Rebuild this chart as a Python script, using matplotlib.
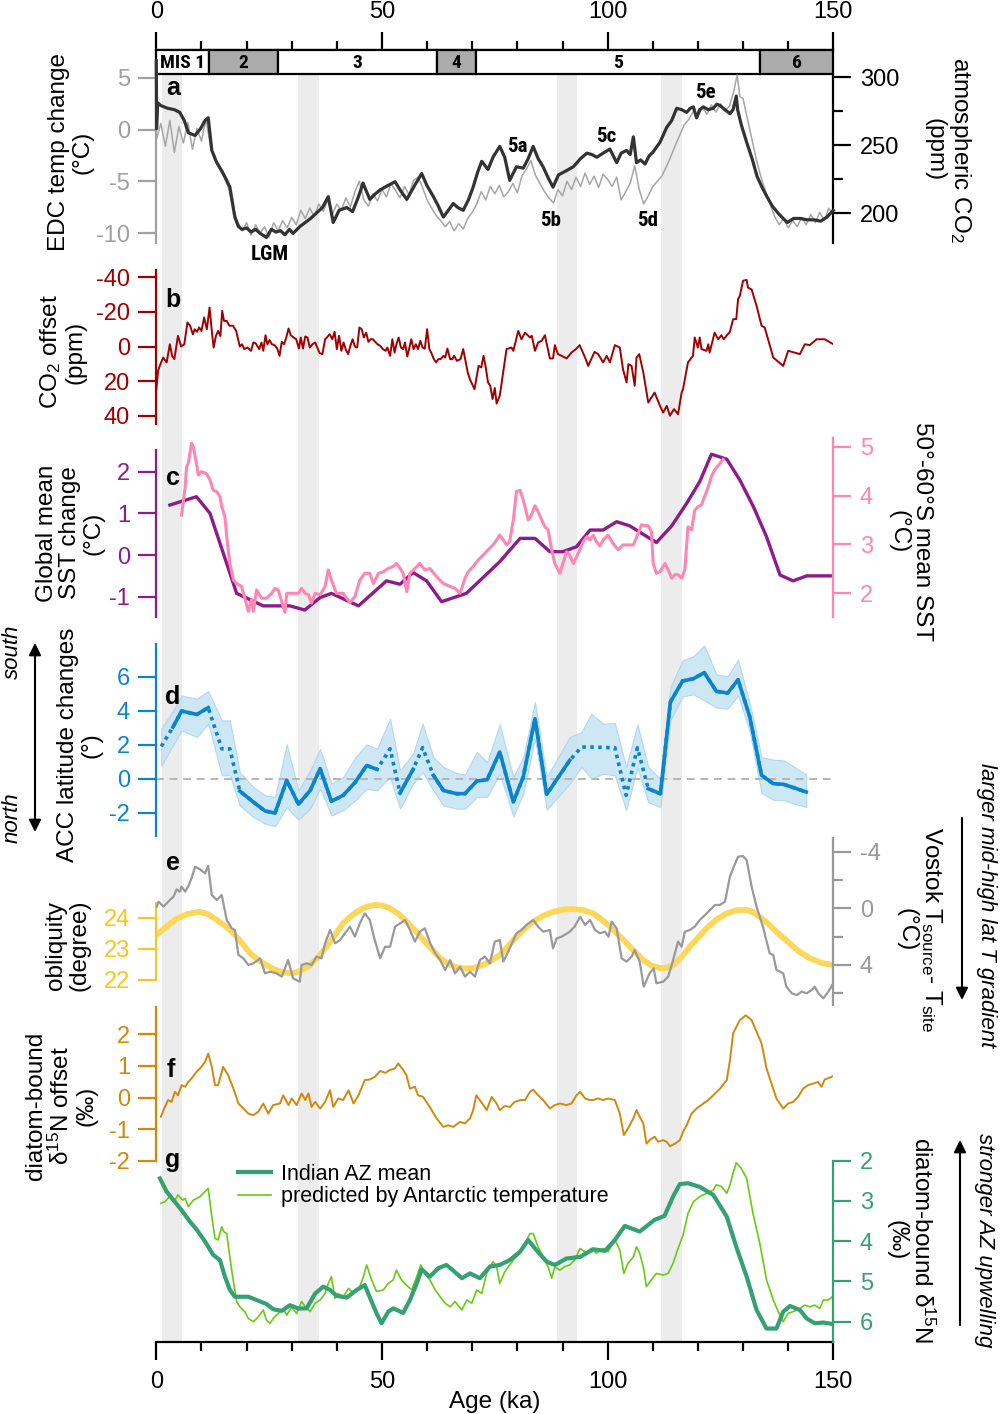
import matplotlib
matplotlib.use('Agg')
import matplotlib.pyplot as plt
import numpy as np
from matplotlib import font_manager
from matplotlib.patches import Rectangle, FancyArrowPatch

plt.rcParams['font.family'] = ['Liberation Sans', 'DejaVu Sans']
plt.rcParams['mathtext.fontset'] = 'custom'
plt.rcParams['mathtext.rm'] = 'Liberation Sans'
plt.rcParams['mathtext.it'] = 'Liberation Sans:italic'
plt.rcParams['axes.unicode_minus'] = False

# ---------------- data ----------------
# marine isotope stages
mis_edges = [0, 11.6, 27.0, 62.2, 70.9, 133.8, 150]
mis_labels = ['MIS 1', '2', '3', '4', '5', '6']
mis_shaded = [False, True, False, True, False, True]
grey_bands = [(1.2, 5.8), (31.4, 36.1), (88.8, 93.3), (111.9, 116.5)]

# a: EDC temperature (grey) and CO2 (black)
edc_age = np.concatenate([np.arange(0, 128), [128, 128.7, 129.3], np.arange(130, 151)])
edc_temp = [-1.0, 0.6, -1.6, 0.9, -2.2, 0.3, -1.3, 0.7, -1.9, 0.1, -1.1, 1.0,
            -1.6, -2.9, -3.8, -4.6, -5.6, -7.6, -8.9, -9.8,
            -9.0, -10.2, -9.2, -10.0, -9.4, -10.4, -9.0, -9.8, -8.8, -9.5,
            -8.5, -9.2, -7.8, -8.6, -7.6, -8.4, -7.2, -7.9, -6.8, -8.2,
            -7.2, -7.8, -6.6, -7.5, -6.0, -5.0, -6.8, -7.4, -6.2, -6.9,
            -5.8, -6.5, -5.2, -5.9, -6.6, -5.5, -6.3, -4.9, -4.6, -5.6,
            -6.8, -7.6, -8.3, -8.8, -9.4, -8.9, -9.8, -9.1, -9.6, -8.6,
            -8.0, -7.2, -6.0, -6.8, -5.5, -6.2, -5.4, -6.5, -6.0, -5.2,
            -6.1, -4.5, -3.8, -3.0, -4.4, -5.2, -6.0, -6.6, -7.1, -5.8,
            -6.4, -5.0, -5.8, -4.6, -5.5, -4.2, -5.3, -4.5, -5.6, -4.3,
            -4.8, -5.5, -4.6, -6.8, -6.0, -5.2, -3.5, -5.8, -7.2, -6.4,
            -5.5, -5.0, -4.5, -3.6, -2.6, -1.5, -0.5, 0.5, 1.0, 1.8,
            1.2, 2.2, 1.5, 2.4, 1.7, 2.5, 1.8, 2.3,
            3.8, 5.3, 3.2,
            3.0, 1.0, -1.0, -3.0, -4.6, -6.0, -7.2, -8.4, -9.2, -8.6, -9.5,
            -8.8, -9.4, -8.5, -9.2, -8.2, -9.0, -8.0, -8.8, -7.6, -8.2]

co2_age = [0, 0.05, 0.3, 1.0, 2.5, 4.0, 5.2, 6.2, 7.1, 8.6, 9.8, 10.8, 11.5, 12.3, 13.4,
           14.5, 15.3, 16.3, 17.4, 18.2, 19.0, 20.0, 21.0, 22.0, 23.0, 24.4, 25.5, 26.5,
           27.5, 28.5, 29.5, 30.3, 31.8, 33.0, 34.2, 35.5, 36.8, 38.1, 39.2, 40.5, 42.2,
           43.5, 44.8, 45.8, 47.3, 48.5, 49.6, 51.2, 52.9, 54.2, 55.5, 57.2, 58.8, 60.0,
           61.4, 62.5, 63.6, 64.7, 65.8, 66.8, 68.0, 69.2, 70.2, 71.2, 72.1, 72.8, 73.5,
           74.6, 76.1, 77.2, 78.3, 79.8, 81.3, 82.4, 83.5, 84.6, 85.7, 86.8, 87.9, 89.1,
           90.8, 92.4, 94.0, 95.4, 96.5, 97.6, 99.0, 100.5, 102.0, 103.0, 104.2, 105.0,
           105.7, 106.4, 107.3, 108.3, 109.2, 110.1, 111.6, 113.1, 114.2, 115.3, 116.4,
           117.5, 118.3, 119.0, 119.7, 120.4, 121.2, 122.3, 123.4, 124.2, 124.9, 126.0,
           127.1, 127.8, 128.5, 128.8, 129.6, 130.9, 132.0, 133.1, 134.2, 135.3, 136.5,
           138.0, 139.8, 141.2, 142.7, 144.2, 145.7, 147.2, 148.6, 150]
co2_ppm = [312, 262, 281, 279, 277, 276, 274, 268, 259, 257, 262, 268, 270, 246, 237,
           231, 226, 219, 197, 190, 188, 189, 186, 188, 185, 182, 188, 186,
           187, 184, 188, 185, 190, 193, 196, 200, 204, 212, 193, 202, 204,
           201, 212, 222, 210, 214, 217, 220, 223, 216, 210, 220, 229, 220,
           212, 205, 197, 202, 207, 204, 202, 210, 219, 230, 238, 235, 232,
           241, 249, 241, 224, 234, 233, 240, 249, 240, 234, 226, 219, 228,
           231, 234, 240, 244, 243, 241, 244, 247, 237, 244, 246, 243,
           256, 237, 239, 236, 242, 245, 252, 263, 268, 277, 276,
           274, 277, 278, 270, 276, 278, 276, 277, 280, 279, 276,
           273, 276, 286, 276, 265, 251, 240, 227, 219, 212, 205,
           199, 193, 196, 196, 195, 195, 194, 197, 202]
a_notes = ['LGM', '5a', '5b', '5c', '5d', '5e']

# b: CO2 offset (ppm)
off_age = [0.0, 0.4, 0.8, 1.5, 2.3, 3.0, 3.5, 4.0, 4.8, 5.5, 6.2, 6.9, 7.5, 8.1, 8.5, 9.0,
           9.5, 10.0, 10.6, 11.2, 11.8, 12.3, 12.7, 13.2, 13.7, 14.2, 14.6, 15.0, 15.6,
           16.2, 17.0, 17.7, 18.5, 19.0, 19.5, 20.2, 21.0, 21.5, 22.0, 22.8, 23.3, 23.7,
           24.2, 24.6, 25.1, 25.6, 26.2, 26.8, 27.3, 27.8, 28.3, 28.8, 29.3, 29.8, 30.4,
           31.0, 31.6, 32.0, 32.5, 33.0, 33.5, 34.0, 34.6, 35.2, 35.8, 36.2, 36.8, 37.4,
           37.8, 38.4, 39.0, 39.5, 40.0, 40.5, 41.0, 41.5, 42.0, 42.5, 43.0, 43.5, 44.0,
           44.5, 45.0, 45.5, 46.0, 46.5, 47.0, 47.5, 48.0, 48.5, 49.0, 49.6, 50.2, 50.8,
           51.2, 51.8, 52.3, 52.8, 53.2, 53.7, 54.2, 54.7, 55.1, 55.6, 56.0, 56.5, 57.0,
           57.5, 58.0, 58.5, 59.0, 59.5, 60.0, 60.5, 60.9, 61.5, 62.0, 62.5, 63.0, 63.6,
           64.0, 64.5, 65.1, 65.6, 66.0, 66.6, 67.4, 68.0, 68.5, 69.0, 69.5, 70.0, 70.5,
           71.0, 71.4, 72.0, 72.5, 73.0, 73.5, 74.0, 74.5, 75.0, 75.4, 76.1, 77.6, 78.7,
           79.1, 80.2, 80.9, 81.7, 82.8, 83.2, 83.9, 84.6, 85.4, 86.1, 87.2, 87.9, 88.3,
           89.0, 89.8, 90.9, 92.0, 93.1, 93.8, 95.0, 95.7, 96.2, 97.1, 97.9, 99.0, 99.8,
           100.5, 101.6, 102.7, 103.4, 104.2, 104.6, 105.3, 106.0, 106.4, 107.0, 107.9,
           109.0, 110.4, 111.6, 112.3, 113.1, 113.8, 114.7, 115.6, 116.4, 116.7, 117.8,
           118.9, 119.3, 120.0, 120.4, 120.8, 121.9, 122.3, 122.6, 123.7, 124.5, 125.2,
           125.7, 127.1, 127.8, 128.5, 128.9, 129.3, 130.0, 130.8, 131.1, 131.9, 133.0,
           134.1, 134.8, 136.7, 138.9, 140.0, 142.6, 143.7, 144.8, 146.3, 148.1, 150.0]
off_ppm = [25, 14, 11, 6.4, 9.2, -1.3, 5.4, 7.3, -6.2, 0, -1.3, -13.9, -12, -7, -10, -8.5,
           -11, -9, -16.8, -10, -22.5, -9, 0.6, -6, -9, -6, -20.6, -14.8, -14.8,
           -12, -12, -9, 0, -1.3, 1.5, 0.6, 2.5, -2.3, -1.9, 1.5, -2.3, 2.5,
           -6.5, -1.3, -3.7, -1.3, -0.8, 1.2, 5.4, -2.7, -1.3, -5.2, -10.4, -6.5, -5.2,
           -4.2, 1.2, -5.2, 1.2, -5.8, -5.2, 0.6, -1.3, -2.3, 1.5, 3.9, 4.4, -4.2,
           -5.2, -7.1, -4.2, -8.5, 1.5, -6.2, 2.5, -2.3, 1.9, 4.4, -0.4, -4.2, 0,
           0.6, -11, -10, -5.2, -8, -2.7, -4.2, -4.2, -2.7, -1.3, -0.4, 1.5, 2.5,
           0.6, 5.4, -4.2, 3.5, -1.3, -5.2, 0.6, 1.5, -2.3, 5.8, 1.5, -4.2, 1.5,
           -1.3, 1.5, -3.3, 0.6, 1.2, -10, 1.5, 3.5, 7.3, 9.2, 7.3, 7.3, 5.4,
           6.4, 1.2, 7.3, 7.3, 5.4, 8.3, 7.3, 1.5, 8.3, 15, 19, 21.8, 24.7,
           17, 11.2, 12.1, 5.4, 12.1, 20.8, 22.7, 30.4, 24, 33, 28.5, 1.5, 0.6,
           2.5, -9, -4.2, -8, -5.2, -6.2, 2.5, -2.3, -3.3, -6.5, 6.9, 6.9, -0.8,
           4.4, 5.4, 6.9, 3.5, 1.2, -0.8, 6.4, 11.2, 8.3, 3.1, 4.4, 9.2, 5.4,
           9.2, -0.8, 0.6, 13.1, 20.8, 10.2, 11.2, 22.7, 6.4, 4.4, 15,
           32.4, 26.6, 34.3, 38.2, 34.3, 40, 36.2, 39.1, 26.6, 24.7, 9.2,
           5.4, -5.2, 0.6, -5.2, 1.5, 2.5, -1.3, 3.5, -8, -4.2, -6.5,
           -4.2, -8.5, -15.8, -15.8, -27.4, -29.3, -38, -38.5, -34, -33, -23.5,
           -12, -11, 6.4, 11.2, 2.5, 4.4, -1.3, -0.8, -4.2, -4.2, -1.3]

# c: global mean SST (purple) and 50-60S SST (pink)
gsst_age = [3.0, 8.9, 11.9, 17.8, 23.7, 29.6, 32.9, 36.3, 38.8, 44.8, 51.0, 54.0, 56.9,
            59.9, 63.2, 68.7, 76.1, 80.6, 83.9, 87.2, 90.1, 93.1, 96.1, 99.0, 102.0,
            104.9, 110.8, 114.2, 117.5, 120.4, 123.0, 126.4, 129.3, 132.3, 135.2, 138.2,
            141.1, 144.1, 150.0]
gsst = [1.20, 1.40, 1.00, -0.92, -1.22, -1.22, -1.32, -1.02, -0.92, -1.22, -0.62, -0.70,
        -0.42, -0.62, -1.12, -0.92, -0.16, 0.40, 0.40, 0.08, 0.08, 0.20, 0.60, 0.60, 0.80,
        0.70, 0.30, 0.70, 1.24, 1.76, 2.42, 2.30, 1.80, 1.16, 0.44, -0.48, -0.62, -0.50,
        -0.50]
ssst_age = [5.6, 6.4, 6.7, 7.1, 7.8, 8.2, 8.9, 9.3, 10.0, 11.1, 11.9, 12.6, 13.4, 14.1,
            14.5, 15.2, 15.6, 16.3, 17.1, 17.8, 18.9, 19.6, 20.4, 21.1, 21.5, 22.2, 23.3,
            24.4, 25.6, 26.3, 27.0, 27.8, 28.5, 28.9, 30.0, 31.5, 32.2, 33.0, 33.7, 34.4,
            35.2, 36.3, 37.4, 38.1, 38.8, 39.9, 41.4, 42.9, 44.0, 45.1, 46.2, 47.3, 48.1,
            49.2, 50.3, 51.4, 52.5, 53.2, 54.0, 54.7, 55.5, 56.2, 57.3, 58.4, 59.5, 60.6,
            62.1, 63.6, 65.1, 66.2, 67.3, 68.4, 69.1, 70.2, 71.3, 72.4, 73.5, 74.6, 75.4,
            76.1, 76.9, 77.6, 78.3, 79.1, 79.8, 80.6, 81.3, 82.4, 83.1, 83.9, 84.6, 85.4,
            86.1, 86.8, 87.6, 88.3, 89.4, 90.1, 90.9, 91.6, 92.4, 93.5, 94.6, 95.4, 96.1,
            96.8, 97.5, 98.3, 99.0, 100.1, 101.2, 102.3, 103.4, 105.7, 106.8, 107.5,
            109.0, 109.7, 110.1, 110.8, 111.6, 112.7, 113.4, 114.2, 114.9, 115.6, 116.4,
            117.1, 117.8, 118.6, 119.3, 120.0, 120.8, 121.5, 122.3, 123.0, 123.7, 124.9,
            125.6]
ssst = [3.60, 4.18, 4.59, 4.66, 5.07, 5.00, 4.66, 4.42, 4.49, 4.45, 4.32, 4.11, 4.08,
        3.98, 3.77, 3.57, 3.16, 2.61, 2.27, 2.20, 2.14, 1.90, 1.63, 1.87, 1.63, 2.07, 1.90,
        1.90, 2.00, 2.10, 2.07, 1.83, 1.61, 2.00, 2.00, 2.00, 2.10, 2.00, 1.97, 1.80,
        2.00, 1.97, 2.14, 2.48, 2.27, 2.00, 2.00, 1.81, 1.93, 2.27, 2.41, 2.41, 2.20,
        2.41, 2.44, 2.51, 2.55, 2.61, 2.51, 2.41, 2.03, 2.41, 2.51, 2.61, 2.48, 2.51,
        2.34, 2.20, 2.14, 2.10, 2.00, 2.31, 2.44, 2.55, 2.68, 2.78, 2.89, 2.99, 3.09,
        3.19, 3.09, 2.99, 3.06, 3.50, 4.08, 4.11, 3.91, 3.50, 3.60, 3.79, 3.67, 3.50,
        3.36, 3.30, 2.89, 2.61, 2.41, 2.61, 2.85, 2.78, 2.61, 2.82, 3.06, 3.16, 3.09,
        3.19, 3.06, 2.97, 3.09, 3.19, 3.02, 2.89, 2.99, 2.99, 3.23, 3.40,
        3.38, 3.26, 2.61, 2.41, 2.44, 2.61, 2.48, 2.31, 2.38, 2.38, 2.31,
        2.48, 3.36, 3.30, 3.70, 3.77, 3.81, 3.98, 4.18, 4.39, 4.52, 4.66,
        4.74]

# d: ACC latitude change (deg) with uncertainty band
acc_age = [1.1, 3.7, 5.6, 9.0, 11.5, 14.5, 16.3, 18.5, 21.5, 24.1, 26.3, 28.9, 31.5, 34.1,
           36.3, 38.8, 41.4, 44.1, 46.6, 48.9, 51.8, 54.0, 56.9, 59.0, 61.4, 63.6, 66.5,
           68.4, 71.0, 73.3, 76.1, 79.1, 81.3, 83.9, 86.5, 91.6, 94.2, 96.4, 99.0, 101.6,
           104.1, 106.6, 109.0, 111.7, 113.9, 116.6, 119.0, 121.4, 124.1, 126.6, 128.9,
           131.5, 134.1, 136.7, 139.0, 144.0]
acc_mid = [1.90, 3.04, 3.98, 3.78, 4.18, 1.76, 1.76, -0.73, -1.37, -1.90, -2.02, -0.10,
           -1.50, -0.69, 0.59, -1.33, -0.98, -0.20, 0.78, 0.55, 1.76, -0.84, 0.55, 1.82,
           0.20, -0.69, -0.88, -0.88, -0.14, -0.06, 1.57, -1.37, 0.10, 3.53, -0.92, 1.08,
           1.86, 1.86, 1.84, 1.82, -0.98, 1.82, -0.59, -0.88, 4.51, 5.75, 5.88, 6.24, 5.14,
           5.04, 5.82, 3.63, 0.20, -0.29, -0.33, -0.78]
acc_hi = [2.94, 4.00, 4.90, 4.70, 5.16, 3.43, 3.43, 0.39, -0.49, -0.98, -1.08, 2.02, -0.69,
          0.49, 1.76, -0.29, 0.10, 1.27, 2.02, 1.76, 3.53, 0.49, 1.47, 3.24, 1.27, 0.69,
          0.33, 0.25, 1.57, 0.98, 3.20, 0.10, 1.27, 4.51, 0.10, 2.45, 2.75, 3.82, 3.24,
          3.27, 0.69, 3.20, 0.69, 0.00, 5.39, 6.96, 7.20, 7.84, 6.14, 6.02, 7.00, 4.41,
          1.27, 1.12, 1.08, 0.25]
acc_lo = [0.78, 1.96, 2.84, 2.45, 3.24, 0.20, 0.20, -1.57, -2.25, -2.65, -2.80, -1.67,
          -2.41, -1.76, -0.59, -2.16, -1.86, -1.27, -0.59, -0.69, 0.10, -1.76, -0.29, 0.39,
          -0.69, -1.57, -1.76, -1.76, -1.08, -1.08, 0.29, -2.22, -0.88, 2.35, -1.82, -0.29,
          0.69, 0.00, 0.29, 0.20, -1.86, 0.65, -1.37, -1.67, 3.43, 4.84, 4.96, 4.61, 4.18,
          4.12, 4.90, 2.75, -0.84, -1.24, -1.27, -1.67]
acc_solid = [(1, 4), (7, 19), (21, 22), (24, 35), (42, 55)]

# e: obliquity (yellow) and Vostok Tsource - Tsite (grey)
obl_age = [0, 2.3, 4.6, 7.1, 9.6, 11.5, 13.4, 15.3, 17.1, 19.0, 20.8, 22.6, 24.4, 26.3,
           28.1, 30.3, 32.2, 34.1, 35.9, 37.7, 39.6, 41.4, 43.3, 45.1, 46.8, 48.4, 50.1,
           51.8, 53.7, 55.5, 57.4, 59.2, 61.1, 62.9, 64.7, 66.5, 68.4, 70.2, 72.1, 73.9,
           76.1, 78.0, 79.8, 81.7, 83.5, 85.7, 87.9, 90.2, 92.4, 94.6, 96.8, 98.7, 100.5,
           102.4, 104.2, 106.1, 107.9, 109.8, 111.6, 113.0, 114.5, 116.4, 118.2, 120.1,
           121.9, 124.2, 126.4, 128.6, 130.8, 132.3, 133.7, 135.6, 137.4, 139.3, 141.1,
           143.0, 144.8, 147.4, 150]
obl_deg = [23.44, 23.72, 23.98, 24.13, 24.19, 24.11, 23.93, 23.73, 23.50, 23.18, 22.86,
           22.64, 22.48, 22.33, 22.24, 22.22, 22.31, 22.48, 22.74, 23.07, 23.45, 23.82,
           24.07, 24.25, 24.36, 24.41, 24.39, 24.30, 24.12, 23.87, 23.58, 23.28, 22.98,
           22.70, 22.52, 22.41, 22.37, 22.38, 22.47, 22.59, 22.80, 23.09, 23.39, 23.65,
           23.87, 24.06, 24.19, 24.26, 24.28, 24.24, 24.14, 23.94, 23.71, 23.45, 23.18,
           22.90, 22.64, 22.46, 22.38, 22.39, 22.48, 22.74, 23.07, 23.37, 23.66, 23.95,
           24.14, 24.24, 24.25, 24.17, 24.03, 23.80, 23.55, 23.31, 23.07, 22.86, 22.70,
           22.55, 22.48]
vos_age = [0.1, 0.5, 1.6, 2.3, 3.0, 3.8, 4.5, 5.2, 5.6, 6.4, 7.1, 7.8, 8.6, 9.7, 10.8, 11.5,
           12.3, 13.4, 14.5, 15.6, 16.7, 17.4, 18.2, 19.3, 20.4, 21.5, 23.0, 24.1, 25.2,
           26.6, 27.8, 29.2, 30.3, 31.8, 32.2, 33.3, 34.4, 35.5, 36.6, 37.4, 38.5, 39.6,
           40.7, 41.8, 42.9, 44.0, 45.1, 46.2, 47.3, 48.4, 49.6, 50.7, 51.8, 52.9, 54.0,
           55.1, 56.2, 57.3, 58.4, 59.5, 60.7, 61.8, 62.9, 64.0, 65.1, 66.2, 67.3, 68.4,
           69.5, 70.6, 71.7, 72.8, 73.9, 75.0, 76.1, 76.9, 77.6, 78.3, 79.8, 80.9, 82.0,
           83.5, 84.6, 85.7, 87.2, 87.9, 88.7, 89.8, 91.6, 92.7, 93.9, 95.0, 96.1, 97.2,
           98.3, 99.4, 100.2, 100.9, 102.0, 103.1, 104.2, 105.3, 106.0, 107.1, 108.0,
           109.3, 110.2, 110.8, 112.3, 113.4, 114.2, 114.9, 115.6, 116.4, 117.1, 118.2,
           119.3, 120.4, 121.6, 122.7, 123.8, 124.9, 126.0, 127.1, 127.8, 128.9, 130.0,
           130.8, 131.9, 133.0, 134.4, 135.9, 136.7, 137.4, 138.9, 139.6, 140.8, 141.9,
           143.0, 144.1, 145.2, 145.9, 146.7, 147.8, 148.9, 150.0]
vos_dt = [-0.12, -0.47, -0.12, -0.35, -0.59, -0.82, -1.34, -1.18, -1.53, -1.18, -1.58,
          -2.12, -2.94, -2.75, -2.47, -2.99, -0.94, -0.59, -0.94, 0.82, 1.41, 1.53, 3.29,
          3.53, 4.00, 3.88, 3.53, 4.59, 4.47, 4.59, 4.82, 3.65, 4.94, 5.18, 4.00, 3.88,
          4.00, 3.41, 3.53, 2.47, 1.53, 2.47, 2.24, 1.76, 1.29, 2.00, 1.06, 0.35, 0.82,
          2.24, 3.53, 2.71, 2.71, 1.29, 1.06, 0.82, 1.53, 2.35, 1.65, 1.41, 2.47, 3.18,
          3.65, 4.35, 3.65, 4.59, 4.12, 4.82, 4.47, 4.82, 3.65, 3.41, 3.88, 2.35, 2.24,
          3.76, 3.29, 2.82, 1.76, 1.53, 1.18, 0.82, 1.29, 1.65, 1.53, 2.82, 2.12, 2.00,
          1.65, 1.29, 0.59, 1.18, 0.82, 1.53, 1.76, 1.65, 2.00, 0.94, 1.41, 3.53, 3.76,
          3.41, 2.94, 3.76, 5.53, 4.59, 4.24, 5.29, 5.18, 4.82, 4.00, 3.18, 2.35, 2.71,
          1.65, 1.53, 1.29, 0.82, 0.47, 0.12, -0.24, -0.24, -0.47, -2.24, -2.82, -3.65,
          -3.69, -3.41, -1.53, -0.12, 1.29, 3.18, 3.29, 4.35, 4.59, 5.53, 6.00, 6.12,
          5.88, 6.00, 5.76, 5.53, 6.00, 6.35, 5.88, 5.29]

# f: diatom-bound d15N offset (permil)
dno_age = [1.0, 1.9, 2.6, 3.4, 4.1, 4.8, 5.6, 6.4, 7.1, 7.8, 8.9, 10.0, 10.8, 11.5, 12.3,
           13.0, 13.7, 14.8, 15.9, 17.1, 18.2, 19.3, 20.4, 21.5, 22.6, 23.7, 24.8, 25.9,
           27.4, 28.1, 29.3, 30.0, 31.1, 32.2, 33.0, 33.7, 34.4, 35.2, 36.3, 37.4, 38.5,
           39.2, 40.3, 41.4, 42.6, 43.7, 44.8, 46.2, 47.3, 48.4, 49.6, 50.7, 51.8, 52.9,
           53.6, 54.7, 55.4, 56.2, 57.3, 58.0, 59.1, 60.6, 62.1, 63.6, 64.7, 65.8, 67.3,
           68.4, 69.5, 70.2, 70.9, 72.0, 73.2, 74.3, 75.4, 76.1, 77.2, 78.3, 79.4, 80.6,
           81.7, 82.8, 83.5, 84.6, 85.7, 87.2, 88.3, 89.4, 90.9, 92.0, 93.1, 93.9, 95.0,
           96.1, 96.8, 97.9, 99.0, 100.1, 101.6, 102.7, 103.6, 104.5, 105.7, 106.4, 107.1,
           107.9, 108.6, 109.3, 110.4, 111.2, 112.3, 113.1, 113.8, 114.9, 116.0, 116.7,
           117.5, 118.6, 119.7, 121.2, 122.3, 123.4, 124.9, 126.4, 127.1, 127.8, 129.3,
           130.6, 131.9, 133.0, 134.1, 135.2, 136.3, 137.4, 138.9, 140.0, 141.1, 142.2,
           143.3, 144.4, 145.5, 146.6, 147.4, 148.1, 149.2, 150.0]
dno = [-0.61, -0.30, -0.08, -0.14, 0.18, 0.07, 0.39, 0.34, 0.50, 0.60, 0.81, 0.97, 1.13,
       1.39, 0.97, 0.39, 0.39, 0.97, 0.71, 0.28, -0.19, -0.35, -0.51, -0.56, -0.45, -0.19,
       -0.51, -0.24, -0.19, 0.07, -0.24, -0.03, -0.24, 0.13, -0.08, 0.13, -0.30, -0.14,
       -0.35, -0.14, 0.23, -0.30, -0.03, -0.08, 0.23, -0.19, 0.07, 0.55, 0.57, 0.65, 0.84,
       0.78, 0.87, 0.92, 1.08, 0.87, 0.71, 0.28, 0.34, 0.07, 0.02, -0.30, -0.66, -0.93,
       -0.88, -0.93, -0.77, -0.82, -0.66, -0.40, 0.07, -0.14, -0.40, 0.02, -0.19, -0.40,
       -0.27, -0.30, -0.14, -0.08, -0.08, 0.18, 0.25, 0.07, -0.08, -0.35, -0.24, -0.19,
       -0.24, -0.19, 0.07, 0.18, -0.03, -0.08, -0.08, -0.03, -0.08, -0.03, -0.08, -0.51,
       -1.19, -0.98, -0.66, -0.40, -0.61, -0.82, -1.46, -1.35, -1.24, -1.40, -1.35, -1.40,
       -1.54, -1.46, -1.35, -1.09, -0.88, -0.51, -0.35, -0.19, -0.08, 0.07, 0.28, 0.55,
       1.18, 2.03, 2.45, 2.60, 2.45, 2.08, 1.71, 0.92, 0.44, -0.03, -0.35, -0.19, -0.14,
       0.02, 0.28, 0.39, 0.44, 0.49, 0.34, 0.57, 0.63, 0.68]

# g: Indian AZ mean d15N (teal) and prediction from Antarctic temperature (green)
az_age = [0.8, 2.3, 3.8, 5.6, 7.5, 9.0, 10.8, 12.6, 14.1, 15.2, 16.3, 17.4, 18.5, 20.4,
          22.2, 24.4, 25.9, 27.8, 29.6, 31.5, 33.3, 35.2, 37.0, 38.5, 40.0, 42.2, 44.4,
          46.2, 47.7, 48.8, 49.9, 51.4, 52.5, 54.7, 56.2, 57.7, 58.8, 60.6, 62.5, 64.3,
          65.8, 67.7, 69.5, 71.7, 73.9, 76.1, 78.3, 80.6, 82.4, 84.2, 86.5, 88.3, 90.9,
          93.9, 96.8, 99.4, 101.6, 103.8, 107.1, 110.4, 112.6, 114.5, 116.0, 117.8, 120.4,
          123.4, 126.4, 128.5, 130.8, 133.0, 135.2, 137.4, 138.9, 140.4, 142.6, 144.1,
          145.9, 147.8, 150.0]
az_d15n = [2.44, 2.77, 2.98, 3.23, 3.52, 3.72, 4.01, 4.34, 4.47, 4.88, 5.21, 5.38, 5.38,
           5.38, 5.46, 5.56, 5.69, 5.73, 5.59, 5.67, 5.67, 5.30, 5.13, 5.21, 5.36, 5.40,
           5.21, 5.09, 5.50, 5.79, 6.04, 5.75, 5.67, 5.78, 5.46, 5.05, 4.70, 4.88, 4.67,
           4.59, 4.73, 4.92, 4.80, 4.92, 4.63, 4.59, 4.47, 4.26, 3.97, 4.22, 4.51, 4.59,
           4.43, 4.39, 4.20, 4.24, 3.97, 3.62, 3.76, 3.47, 3.37, 2.89, 2.58, 2.56, 2.65,
           2.85, 3.39, 4.14, 4.88, 5.71, 6.17, 6.17, 5.75, 5.61, 5.71, 5.92, 6.04, 6.02,
           6.06]
pred_age = [1.0, 1.9, 3.0, 4.1, 4.8, 5.8, 6.4, 7.1, 8.2, 9.7, 10.4, 11.5, 12.3, 13.0, 13.7,
            14.5, 15.0, 15.6, 16.7, 17.8, 18.5, 19.6, 20.4, 21.5, 22.6, 23.7, 24.4, 25.2,
            25.9, 27.0, 28.1, 28.9, 30.0, 31.1, 32.2, 33.0, 34.1, 35.2, 36.3, 37.4, 38.1,
            38.8, 39.6, 40.3, 41.4, 42.6, 43.7, 44.8, 45.9, 46.6, 47.7, 48.8, 50.3, 51.4,
            52.5, 53.2, 54.3, 55.4, 56.6, 57.7, 58.6, 59.5, 60.6, 61.8, 62.9, 64.0, 65.1,
            66.2, 67.7, 68.8, 69.9, 71.0, 72.1, 73.2, 73.9, 74.6, 75.4, 76.1, 77.2, 78.3,
            79.4, 80.6, 81.7, 82.8, 83.5, 84.6, 85.7, 86.8, 87.6, 88.3, 89.4, 90.5, 91.6,
            92.7, 93.9, 95.4, 96.4, 97.5, 99.0, 100.1, 101.6, 102.7, 103.6, 104.5, 105.7,
            106.4, 107.1, 107.9, 108.6, 109.7, 110.8, 112.3, 113.4, 114.5, 115.6, 116.7,
            117.8, 119.0, 120.4, 121.9, 123.4, 124.1, 125.2, 126.4, 127.1, 127.8, 128.5,
            129.6, 130.8, 132.2, 133.7, 135.2, 136.7, 137.8, 138.9, 140.0, 141.1, 142.6,
            143.7, 144.8, 145.9, 147.0, 147.8, 148.9, 150.0]
pred_d15n = [3.06, 3.02, 2.89, 2.98, 2.85, 2.98, 2.94, 3.14, 2.98, 2.89, 2.81, 2.69, 3.39,
             3.93, 3.97, 3.64, 3.77, 3.81, 4.72, 5.50, 5.63, 5.75, 5.92, 6.00, 5.88, 5.71,
             5.96, 6.04, 5.92, 5.80, 5.67, 5.84, 5.63, 5.80, 5.50, 5.63, 5.75, 5.54, 5.46,
             5.30, 5.05, 4.88, 5.42, 5.30, 5.38, 5.17, 5.30, 5.21, 4.88, 4.59, 4.96, 5.25,
             5.21, 5.05, 4.96, 4.72, 4.96, 5.09, 5.21, 4.88, 4.59, 4.80, 4.96, 5.21, 5.38,
             5.54, 5.63, 5.50, 5.71, 5.46, 5.54, 5.21, 5.30, 4.80, 4.63, 4.51, 4.63, 5.05,
             4.76, 4.59, 4.43, 4.30, 4.05, 3.81, 3.81, 4.14, 4.39, 4.63, 4.92, 4.63, 4.72,
             4.63, 4.59, 4.47, 4.18, 4.30, 4.18, 4.30, 4.18, 4.26, 3.97, 4.22, 4.80, 4.55,
             4.39, 4.14, 4.30, 4.63, 5.13, 4.96, 4.80, 4.84, 4.80, 4.55, 4.18, 3.85, 3.31,
             3.02, 2.89, 2.81, 2.73, 2.60, 2.64, 2.81, 2.60, 2.31, 2.05, 2.19, 2.44, 3.31,
             4.05, 4.96, 5.46, 5.75, 6.00, 5.79, 5.75, 5.67, 5.59, 5.63, 5.59, 5.67, 5.46,
             5.46, 5.36]

# ---------------- layout ----------------
W, H = 1000, 1414
X0, X1 = 156.3, 833.3
fig = plt.figure(figsize=(W / 100, H / 100), dpi=100)

c_grey = '#a6a6a6'
c_black = '#333333'
c_red = '#a00000'
c_purple = '#8e1b8c'
c_pink = '#ff85b3'
c_blue = '#0a84cc'
c_yellow = '#fdd75a'
c_yellow_txt = '#fcc419'
c_vos = '#999999'
c_orange = '#d4880b'
c_teal = '#35a173'
c_green = '#66cc11'
TICK = 17
LAB = 17.5

# a narrow bold face for the stage and event labels, if one is installed
_fonts = font_manager.fontManager.ttflist
_names = {f.name for f in _fonts}
if 'Liberation Sans Narrow' in _names:
    NARROW = dict(family='Liberation Sans Narrow', fontweight='bold')
elif 'Roboto Condensed' in _names:
    NARROW = dict(family='Roboto Condensed', fontweight='bold')
elif any(f.name == 'DejaVu Sans' and 'condensed' in str(f.stretch) for f in _fonts):
    NARROW = dict(family='DejaVu Sans', fontstretch='condensed', fontweight='bold')
else:
    NARROW = dict(family='Liberation Sans', fontweight='bold')


def fx(x):
    return x / W


def fy(y):
    return 1 - y / H


def make_ax(top, bot):
    ax = fig.add_axes([fx(X0), fy(bot), (X1 - X0) / W, (bot - top) / H])
    ax.set_xlim(0, 150)
    ax.patch.set_alpha(0)
    for s in ax.spines.values():
        s.set_visible(False)
    ax.set_xticks([])
    ax.tick_params(axis='y', which='both', left=False, right=False,
                   labelleft=False, labelright=False)
    return ax


def fit(ax, v1, p1, v2, p2, top, bot):
    # returns px -> value mapping and sets the limits
    k = (v2 - v1) / (p2 - p1)
    ax.set_ylim(v1 + (bot - p1) * k, v1 + (top - p1) * k)
    return lambda p: v1 + (p - p1) * k


def side(ax, where, color, ticks, minor=None, bounds=None, labelcolor=None):
    sp = ax.spines[where]
    sp.set_visible(True)
    sp.set_color(color)
    sp.set_linewidth(1.6)
    if bounds is not None:
        sp.set_bounds(*bounds)
    ax.set_yticks(ticks)
    ax.set_yticklabels([str(t) for t in ticks])
    if minor is not None:
        ax.set_yticks(minor, minor=True)
    L = where == 'left'
    ax.tick_params(axis='y', which='major', direction='out', length=13, width=1.6,
                   color=color, labelcolor=labelcolor or color, labelsize=TICK, pad=6,
                   left=L, right=not L, labelleft=L, labelright=not L)
    ax.tick_params(axis='y', which='minor', direction='out', length=7, width=1.6,
                   color=color, left=L, right=not L)


# base axis: age ticks top and bottom, grey bands, MIS bar
base = fig.add_axes([fx(X0), fy(1341.7), (X1 - X0) / W, (1341.7 - 50) / H])
base.set_xlim(0, 150)
base.set_ylim(0, 1)
base.patch.set_alpha(0)
for s in ['left', 'right', 'top']:
    base.spines[s].set_visible(False)
base.spines['bottom'].set_linewidth(1.6)
base.set_yticks([])
base.set_xticks([0, 50, 100, 150])
base.set_xticks(np.arange(0, 151, 10), minor=True)
base.tick_params(axis='x', which='major', length=13, width=1.6, labelsize=TICK, pad=8)
base.tick_params(axis='x', which='minor', length=6.5, width=1.6)
base.set_xlabel('Age (ka)', fontsize=LAB, labelpad=-1)
top_ax = base.secondary_xaxis('top')
top_ax.spines['top'].set_linewidth(1.6)
top_ax.set_xticks([0, 50, 100, 150])
top_ax.set_xticks(np.arange(0, 151, 10), minor=True)
top_ax.tick_params(axis='x', which='major', length=13, width=1.6, labelsize=TICK, pad=6.5)
top_ax.tick_params(axis='x', which='minor', length=6.5, width=1.6)

mis_bot = (1341.7 - 74) / (1341.7 - 50)
for a0, a1 in grey_bands:
    base.axvspan(a0, a1, ymin=0, ymax=mis_bot, color='#ececec', lw=0, zorder=0)
for i, lab in enumerate(mis_labels):
    a0, a1 = mis_edges[i], mis_edges[i + 1]
    base.add_patch(Rectangle((a0, mis_bot), a1 - a0, 1 - mis_bot,
                             facecolor='#ababab' if mis_shaded[i] else 'white',
                             edgecolor='black', lw=1.6, clip_on=False, zorder=3))
    base.text((a0 + a1) / 2, (1 + mis_bot) / 2 - 0.001, lab, ha='center', va='center',
              fontsize=14, zorder=4, **NARROW)

# ---- a ----
axa = make_ax(74, 243)
fit(axa, 5, 78, -10, 233, 74, 243)
side(axa, 'left', '#a0a0a0', [5, 0, -5, -10])
axa.plot(edc_age, edc_temp, color=c_grey, lw=1.1, zorder=2)
for txt, (x, y) in zip(a_notes, [(270, 254), (517, 147), (551, 220), (606, 136),
                                 (648, 220), (705, 92)]):
    fig.text(fx(x), fy(y), txt, ha='center', va='center', fontsize=15, **NARROW)
axa2 = make_ax(74, 243)
fit(axa2, 300, 77, 200, 213, 74, 243)
side(axa2, 'right', 'black', [300, 250, 200], minor=[275, 225])
axa2.plot(co2_age, co2_ppm, color=c_black, lw=2.3, zorder=3, clip_on=False)

# ---- b ----
axb = make_ax(270, 424)
fit(axb, -40, 277.3, 40, 415.7, 270, 424)
side(axb, 'left', c_red, [-40, -20, 0, 20, 40])
axb.plot(off_age, off_ppm, color=c_red, lw=1.4)

# ---- c ----
axc = make_ax(438, 617)
mc = fit(axc, 2, 471.7, -1, 596.7, 438, 617)
side(axc, 'left', c_purple, [2, 1, 0, -1], bounds=(mc(617), mc(450)))
axc.plot(gsst_age, gsst, color=c_purple, lw=2.4, zorder=3)
axc2 = make_ax(438, 617)
fit(axc2, 5, 446.7, 2, 593.3, 438, 617)
side(axc2, 'right', c_pink, [5, 4, 3, 2])
axc2.plot(ssst_age, ssst, color=c_pink, lw=2.2, zorder=2)

# ---- d ----
axd = make_ax(644, 836)
fit(axd, 6, 676.7, -2, 812.7, 644, 836)
side(axd, 'left', c_blue, [6, 4, 2, 0, -2])
axd.fill_between(acc_age, acc_lo, acc_hi, color='#c5e3f3', alpha=0.85, lw=0.8,
                 edgecolor='#a9d4ee')
axd.plot([0, 150], [0, 0], color='#b5b5b5', lw=1.4, ls=(0, (4, 3)))
axd.plot(acc_age, acc_mid, color=c_blue, lw=2.6, ls=(0, (1, 1.2)))
for i0, i1 in acc_solid:
    axd.plot(acc_age[i0:i1 + 1], acc_mid[i0:i1 + 1], color=c_blue, lw=2.6,
             solid_joinstyle='round')

# ---- e ----
axe = make_ax(838, 1005)
me = fit(axe, 24, 917.7, 22, 980, 838, 1005)
side(axe, 'left', '#f7c531', [24, 23, 22], bounds=(me(980), me(902.7)),
     labelcolor=c_yellow_txt)
axe.plot(obl_age, obl_deg, color=c_yellow, lw=4.2, zorder=2, solid_capstyle='butt')
axe2 = make_ax(838, 1005)
fit(axe2, -4, 851.7, 4, 965, 838, 1005)
side(axe2, 'right', c_vos, [-4, 0, 4], minor=[-2, 2, 6])
axe2.plot(vos_age, vos_dt, color=c_vos, lw=1.6, zorder=3)

# ---- f ----
axf = make_ax(1006.7, 1160.7)
fit(axf, 2, 1034.3, -2, 1160.7, 1006.7, 1160.7)
side(axf, 'left', c_orange, [2, 1, 0, -1, -2])
axf.plot(dno_age, dno, color=c_orange, lw=1.4)

# ---- g ----
axg = make_ax(1160.7, 1341.7)
fit(axg, 2, 1160.7, 6, 1321.7, 1160.7, 1341.7)
side(axg, 'right', c_teal, [2, 3, 4, 5, 6])
axg.plot(pred_age, pred_d15n, color=c_green, lw=1.2, label='predicted by Antarctic temperature',
         zorder=2)
axg.plot(az_age, az_d15n, color=c_teal, lw=3.0, label='Indian AZ mean', zorder=3)
h, l = axg.get_legend_handles_labels()
fig.legend(h[::-1], l[::-1], loc='upper left', bbox_to_anchor=(fx(238), fy(1164)),
           frameon=False, fontsize=15.5, handlelength=1.55, handletextpad=0.45,
           labelspacing=0.05, borderpad=0, borderaxespad=0)

# ---- panel letters ----
for lt, x, y in [('a', 173, 88), ('b', 173, 300), ('c', 173, 478), ('d', 173, 697),
                 ('e', 173, 863), ('f', 171, 1070), ('g', 173, 1160)]:
    fig.text(fx(x), fy(y), lt, fontsize=18, fontweight='bold', ha='center', va='center')


# ---- axis titles ----
def lab(x, y, s, rot=90, size=LAB, **kw):
    fig.text(fx(x), fy(y), s, rotation=rot, ha='center', va='center',
             multialignment='center', fontsize=size, linespacing=1.08, **kw)


lab(71, 152, 'EDC temp change\n(°C)')
lab(948, 150, 'atmospheric CO$_2$\n(ppm)', rot=-90)
lab(62, 352, 'CO$_2$ offset\n(ppm)')
lab(70, 533, 'Global mean\nSST change\n(°C)')
lab(910, 532, '50°-60°S mean SST\n(°C)', rot=-90)
lab(80, 745, 'ACC latitude changes\n(°)')
lab(12, 652, 'south', style='italic', size=16)
lab(12, 818, 'north', style='italic', size=16)
lab(68, 945, 'obliquity\n(degree)')
lab(920, 930, 'Vostok T$_{\\mathrm{source}}$- T$_{\\mathrm{site}}$\n(°C)', rot=-90)
lab(987, 905, 'larger mid-high lat T gradient', rot=-90, style='italic', size=16)
lab(61, 1106, 'diatom-bound\nδ$^{15}$N offset\n(‰)')
lab(910, 1240, 'diatom-bound δ$^{15}$N\n(‰)', rot=-90)
lab(985, 1240, 'stronger AZ upwelling', rot=-90, style='italic', size=16)

for (x0, y0, x1, y1, st) in [(35, 643, 35, 832, '<|-|>'), (962, 818, 962, 1000, '-|>'),
                             (960, 1325, 960, 1140, '-|>')]:
    fig.add_artist(FancyArrowPatch((fx(x0), fy(y0)), (fx(x1), fy(y1)),
                                   transform=fig.transFigure, arrowstyle=st,
                                   mutation_scale=18, lw=1.5, color='black',
                                   shrinkA=0, shrinkB=0))

fig.savefig('out.png', dpi=100)
